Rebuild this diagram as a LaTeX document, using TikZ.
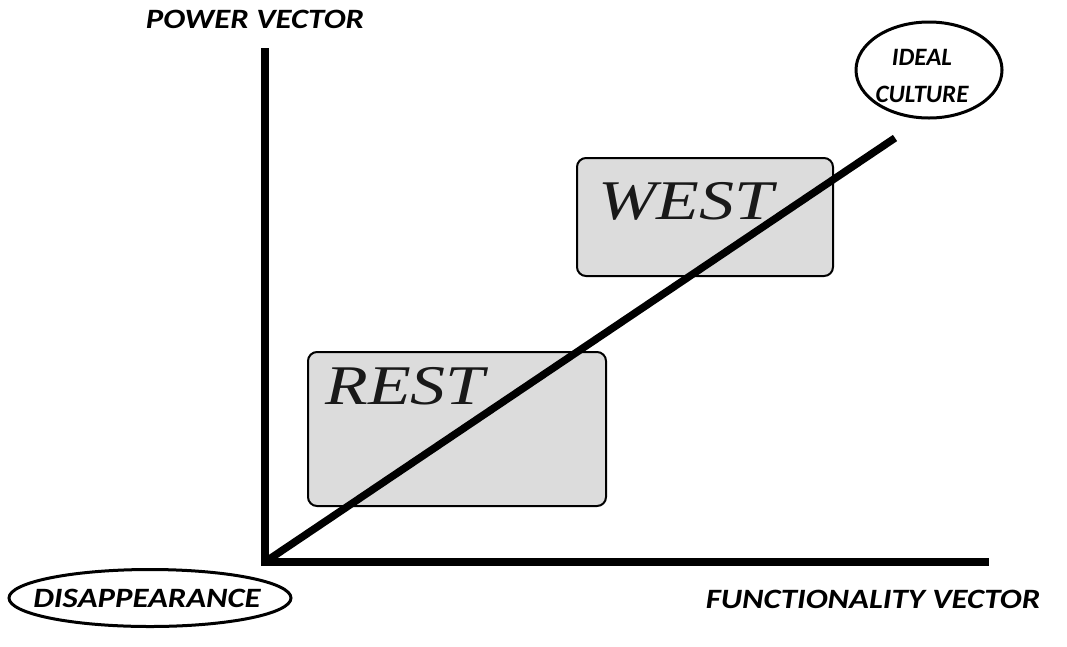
\documentclass[tikz,border=0pt]{standalone}
\usepackage{fontspec}
\setmainfont{Carlito}
\newfontfamily\serifit{Liberation Serif}
\usetikzlibrary{shapes.geometric}
\definecolor{boxgrey}{HTML}{DCDCDC}
\tikzset{
  axis/.style={line width=8pt, line cap=rect},
  diag/.style={line width=7.5pt},
  regionbox/.style={draw, line width=2pt, fill=boxgrey, rounded corners=9pt},
  lbl/.style={font=\fontsize{28}{32}\selectfont\bfseries\itshape, inner sep=0pt, xscale=1.17},
  oval/.style={ellipse, draw, line width=3pt, inner sep=0pt},
  big/.style={font=\fontsize{56}{60}\serifit\itshape, text=black!90, inner sep=0pt, xscale=1.25}
}
\begin{document}
\begin{tikzpicture}[x=1pt,y=-1pt]
\useasboundingbox (0,0) rectangle (1067,646);
% boxes
\draw[regionbox] (577,158) rectangle (833,276);
\draw[regionbox] (308,352) rectangle (606,506);
\node[big] (west) at (686,201) {WEST};
\node[big] (rest) at (405,386) {REST};
% axes
\coordinate (o) at (265,562);
\coordinate (ytop) at (265,52);
\coordinate (xend) at (985,562);
\coordinate (dend) at (895,138);
\draw[axis] (ytop) -- (o) -- (xend);
\draw[diag] (o) -- (dend);
% labels
\node[lbl] (pv) at (255,19) {POWER VECTOR};
\node[lbl] (fv) at (873,599) {FUNCTIONALITY VECTOR};
\node[oval, minimum width=146pt, minimum height=96pt] (ideal) at (929,70) {};
\node[align=center, inner sep=0pt, font=\fontsize{25}{37}\selectfont\bfseries\itshape] (idealtext) at (922,76) {IDEAL\\CULTURE};
\node[oval, minimum width=282pt, minimum height=57pt] (dis) at (150,598) {};
\node[lbl] (distext) at (147,598) {DISAPPEARANCE};
\end{tikzpicture}
\end{document}
